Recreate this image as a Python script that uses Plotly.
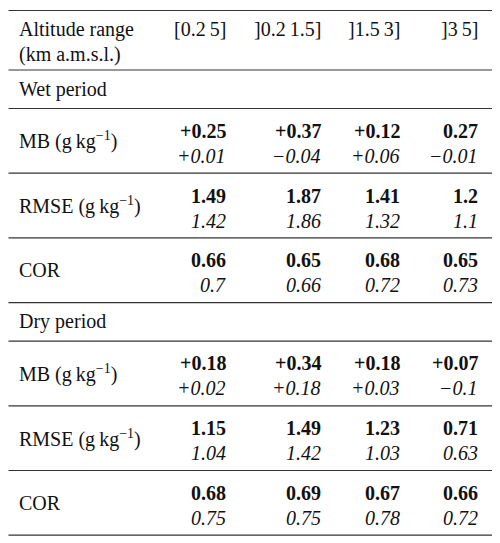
import plotly.graph_objects as go

# table content
col_headers = ["[0.2\u20095]", "]0.2\u20091.5]", "]1.5\u20093]", "]3\u20095]"]
row_header = ["Altitude range", "(km a.m.s.l.)"]
periods = ["Wet period", "Dry period"]
metrics = ["MB (g\u2009kg<sup>\u22121</sup>)", "RMSE (g\u2009kg<sup>\u22121</sup>)", "COR"]

# bold = first row of each cell, italic = second row
wet_bold = [
    ["+0.25", "+0.37", "+0.12", "0.27"],
    ["1.49", "1.87", "1.41", "1.2"],
    ["0.66", "0.65", "0.68", "0.65"],
]
wet_italic = [
    ["+0.01", "\u22120.04", "+0.06", "\u22120.01"],
    ["1.42", "1.86", "1.32", "1.1"],
    ["0.7", "0.66", "0.72", "0.73"],
]
dry_bold = [
    ["+0.18", "+0.34", "+0.18", "+0.07"],
    ["1.15", "1.49", "1.23", "0.71"],
    ["0.68", "0.69", "0.67", "0.66"],
]
dry_italic = [
    ["+0.02", "+0.18", "+0.03", "\u22120.1"],
    ["1.04", "1.42", "1.03", "0.63"],
    ["0.75", "0.75", "0.78", "0.72"],
]

# layout in page pixels; the page body has an 8px margin, so the
# figure is 8px smaller and its axes start at 8
PAD = 8
W, H = 500, 543
LINE_X0, LINE_X1 = PAD + 0.5, 494
LABEL_X = 17
COL_RIGHT = [228, 323, 402, 480]
TOP = 5
HEADER_H = 65
SECTION_H = 38.5
DATA_H = 64.7
FONT = "Liberation Serif"
TXT = "#111111"
RULE = "#333333"

annotations = []
lines = []


def add_text(x, y, text, anchor):
    annotations.append(dict(
        x=x, y=y, xref="x", yref="y", text=text, showarrow=False,
        xanchor=anchor, yanchor="middle",
        font=dict(family=FONT, size=20, color=TXT),
    ))


# header
y = TOP
add_text(LABEL_X, y + 24, row_header[0], "left")
add_text(LABEL_X, y + 49, row_header[1], "left")
for xr, h in zip(COL_RIGHT, col_headers):
    add_text(xr, y + 24, h, "right")
y += HEADER_H
lines.append(y)

for period, bold, ital in zip(periods, [wet_bold, dry_bold], [wet_italic, dry_italic]):
    add_text(LABEL_X, y + SECTION_H / 2, period, "left")
    y += SECTION_H
    lines.append(y)
    for m, b_row, i_row in zip(metrics, bold, ital):
        mid = y + DATA_H / 2
        add_text(LABEL_X, mid, m, "left")
        for xr, b, i in zip(COL_RIGHT, b_row, i_row):
            add_text(xr, mid - 10, "<b>" + b + "</b>", "right")
            add_text(xr, mid + 15, "<i>" + i + "</i>", "right")
        y += DATA_H
        lines.append(y)

shapes = [
    dict(type="line", xref="x", yref="y", x0=LINE_X0, x1=LINE_X1, y0=ly, y1=ly,
         line=dict(color=RULE, width=1.2))
    for ly in lines
]
# top rule: paper-referenced so it is not clipped at the figure's top edge
top_y = 1 - 2.5 / (H - PAD)
shapes.append(dict(type="line", xref="x", yref="paper", x0=LINE_X0, x1=LINE_X1,
                   y0=top_y, y1=top_y, line=dict(color=RULE, width=1.2)))

fig = go.Figure()
fig.update_layout(
    width=W - PAD, height=H - PAD,
    margin=dict(l=0, r=0, t=0, b=0),
    paper_bgcolor="white", plot_bgcolor="white",
    xaxis=dict(range=[PAD, W], visible=False, fixedrange=True),
    yaxis=dict(range=[H, PAD], visible=False, fixedrange=True),
    annotations=annotations,
    shapes=shapes,
    showlegend=False,
)

fig.write_html("out.html")
